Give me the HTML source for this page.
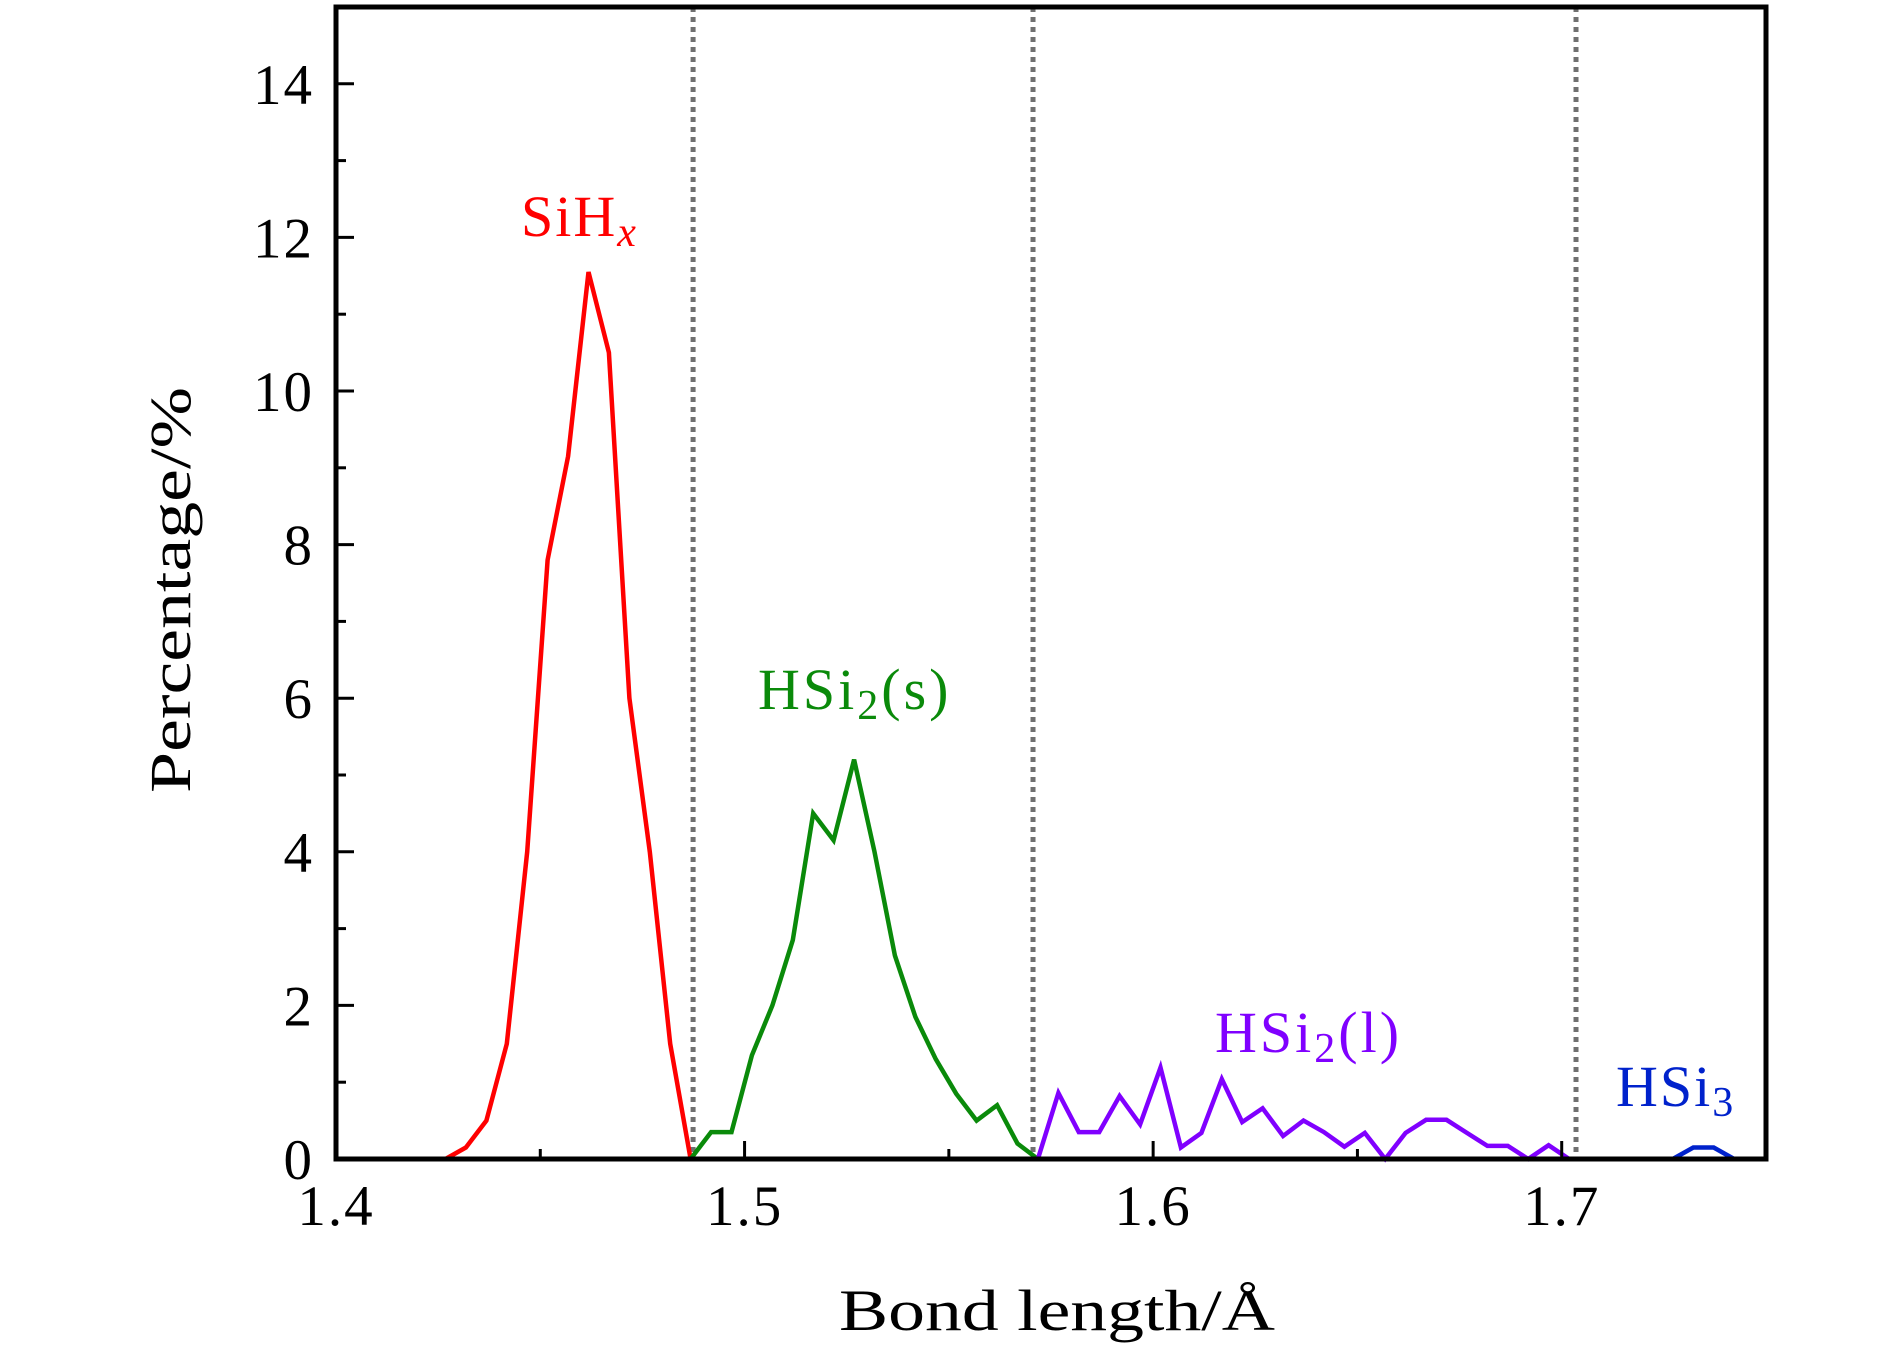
<!DOCTYPE html>
<html><head><meta charset="utf-8"><style>
html,body{margin:0;padding:0;background:#fff;}
svg{display:block;font-family:"Liberation Serif",serif;}
</style></head><body>
<svg id="chart" width="1890" height="1347" viewBox="0 0 1890 1347" xmlns="http://www.w3.org/2000/svg">
<g id="grid"></g>
<g id="series"></g>
<g id="axes"></g>
<text x="521" y="236" font-size="58" letter-spacing="2" fill="#ff0000">SiH<tspan font-style="italic" font-size="42" dy="10">x</tspan></text>
<text x="758" y="709" font-size="58" letter-spacing="3" fill="#0a8a0a">HSi<tspan font-size="42" dy="10">2</tspan><tspan dy="-10">(s)</tspan></text>
<text x="1215" y="1052" font-size="58" letter-spacing="3" fill="#8000ff">HSi<tspan font-size="42" dy="10">2</tspan><tspan dy="-10">(l)</tspan></text>
<text x="1616" y="1106" font-size="58" letter-spacing="2" fill="#0022cc">HSi<tspan font-size="42" dy="10">3</tspan></text>
<text x="839" y="1330" font-size="58" textLength="436" lengthAdjust="spacingAndGlyphs">Bond length/Å</text>
<text x="-203" y="0" font-size="58" textLength="406" lengthAdjust="spacingAndGlyphs" transform="translate(190,590) rotate(-90)">Percentage/%</text>
</svg>
<script>
const xTicks = [1.4, 1.5, 1.6, 1.7];
const xTickLabels = ["1.4", "1.5", "1.6", "1.7"];
const yTicks = [0, 2, 4, 6, 8, 10, 12, 14];
const yTickLabels = ["0", "2", "4", "6", "8", "10", "12", "14"];
const separators = [1.4874, 1.5706, 1.7035];
const binStep = 0.005;
const redStart = 1.4268;
const redValues = [0, 0.15, 0.5, 1.5, 4.0, 7.8, 9.15, 11.55, 10.5, 6.0, 4.0, 1.5, 0];
const greenStart = 1.4868;
const greenValues = [0, 0.35, 0.35, 1.35, 2.0, 2.85, 4.5, 4.15, 5.2, 4.0, 2.65, 1.85, 1.3, 0.85, 0.5, 0.7, 0.2, 0];
const purpleStart = 1.5718;
const purpleValues = [0, 0.86, 0.35, 0.35, 0.82, 0.45, 1.19, 0.15, 0.34, 1.04, 0.48, 0.66, 0.30, 0.50, 0.35, 0.16, 0.34, 0, 0.34, 0.51, 0.51, 0.34, 0.17, 0.17, 0, 0.18, 0];
const blueStart = 1.7272;
const blueValues = [0, 0.15, 0.15, 0];

const NS = "http://www.w3.org/2000/svg";
const L = 336, R = 1766, T = 7, B = 1159;
const xMin = 1.4, xMax = 1.75, yMin = 0, yMax = 15;
function sx(v){ return L + (v - xMin) / (xMax - xMin) * (R - L); }
function sy(v){ return B - (v - yMin) / (yMax - yMin) * (B - T); }
function mk(tag, attrs, parent){ const e = document.createElementNS(NS, tag); for (const k in attrs) e.setAttribute(k, attrs[k]); parent.appendChild(e); return e; }

const grid = document.getElementById('grid');
separators.forEach(function(s){
  const ln = mk('line', {x1: sx(s), x2: sx(s), y1: T, y2: B, stroke: '#707070', 'stroke-width': 5, 'stroke-dasharray': '5 5'}, grid);
  
  
});

const series = document.getElementById('series');
function drawSeries(start, vals, color, name){
  const pts = vals.map(function(v, i){ return sx(start + i * binStep).toFixed(1) + ',' + sy(v).toFixed(1); }).join(' ');
  const p = mk('polyline', {points: pts, fill: 'none', stroke: color, 'stroke-width': 4.5, 'stroke-linejoin': 'miter'}, series);
  
  
}
drawSeries(redStart, redValues, '#ff0000', 'series-sihx');
drawSeries(greenStart, greenValues, '#0a8a0a', 'series-hsi2-s');
drawSeries(purpleStart, purpleValues, '#8000ff', 'series-hsi2-l');
drawSeries(blueStart, blueValues, '#0022cc', 'series-hsi3');

const axes = document.getElementById('axes');
for (let v = 0; v <= 15; v += 1) {
  const major = v % 2 === 0;
  const t = mk('line', {x1: L, x2: L + (major ? 18 : 10), y1: sy(v), y2: sy(v), stroke: '#000', 'stroke-width': 3}, axes);
  
  
}
yTicks.forEach(function(v, i){
  const tx = mk('text', {x: 314, y: sy(v) + 20, 'font-size': 57, 'letter-spacing': 2, 'text-anchor': 'end'}, axes);
  tx.textContent = yTickLabels[i];
  
  
});
for (let k = 0; k <= 7; k++) {
  const v = 1.4 + k * 0.05;
  const major = k % 2 === 0;
  const t = mk('line', {x1: sx(v), x2: sx(v), y1: B, y2: B - (major ? 18 : 10), stroke: '#000', 'stroke-width': 3}, axes);
  
  
}
xTicks.forEach(function(v, i){
  const tx = mk('text', {x: sx(v), y: 1225, 'font-size': 57, 'letter-spacing': 2, 'text-anchor': 'middle'}, axes);
  tx.textContent = xTickLabels[i];
  
  
});
const frame = mk('rect', {x: L, y: T, width: R - L, height: B - T, fill: 'none', stroke: '#000', 'stroke-width': 5}, axes);


</script>
</body></html>
